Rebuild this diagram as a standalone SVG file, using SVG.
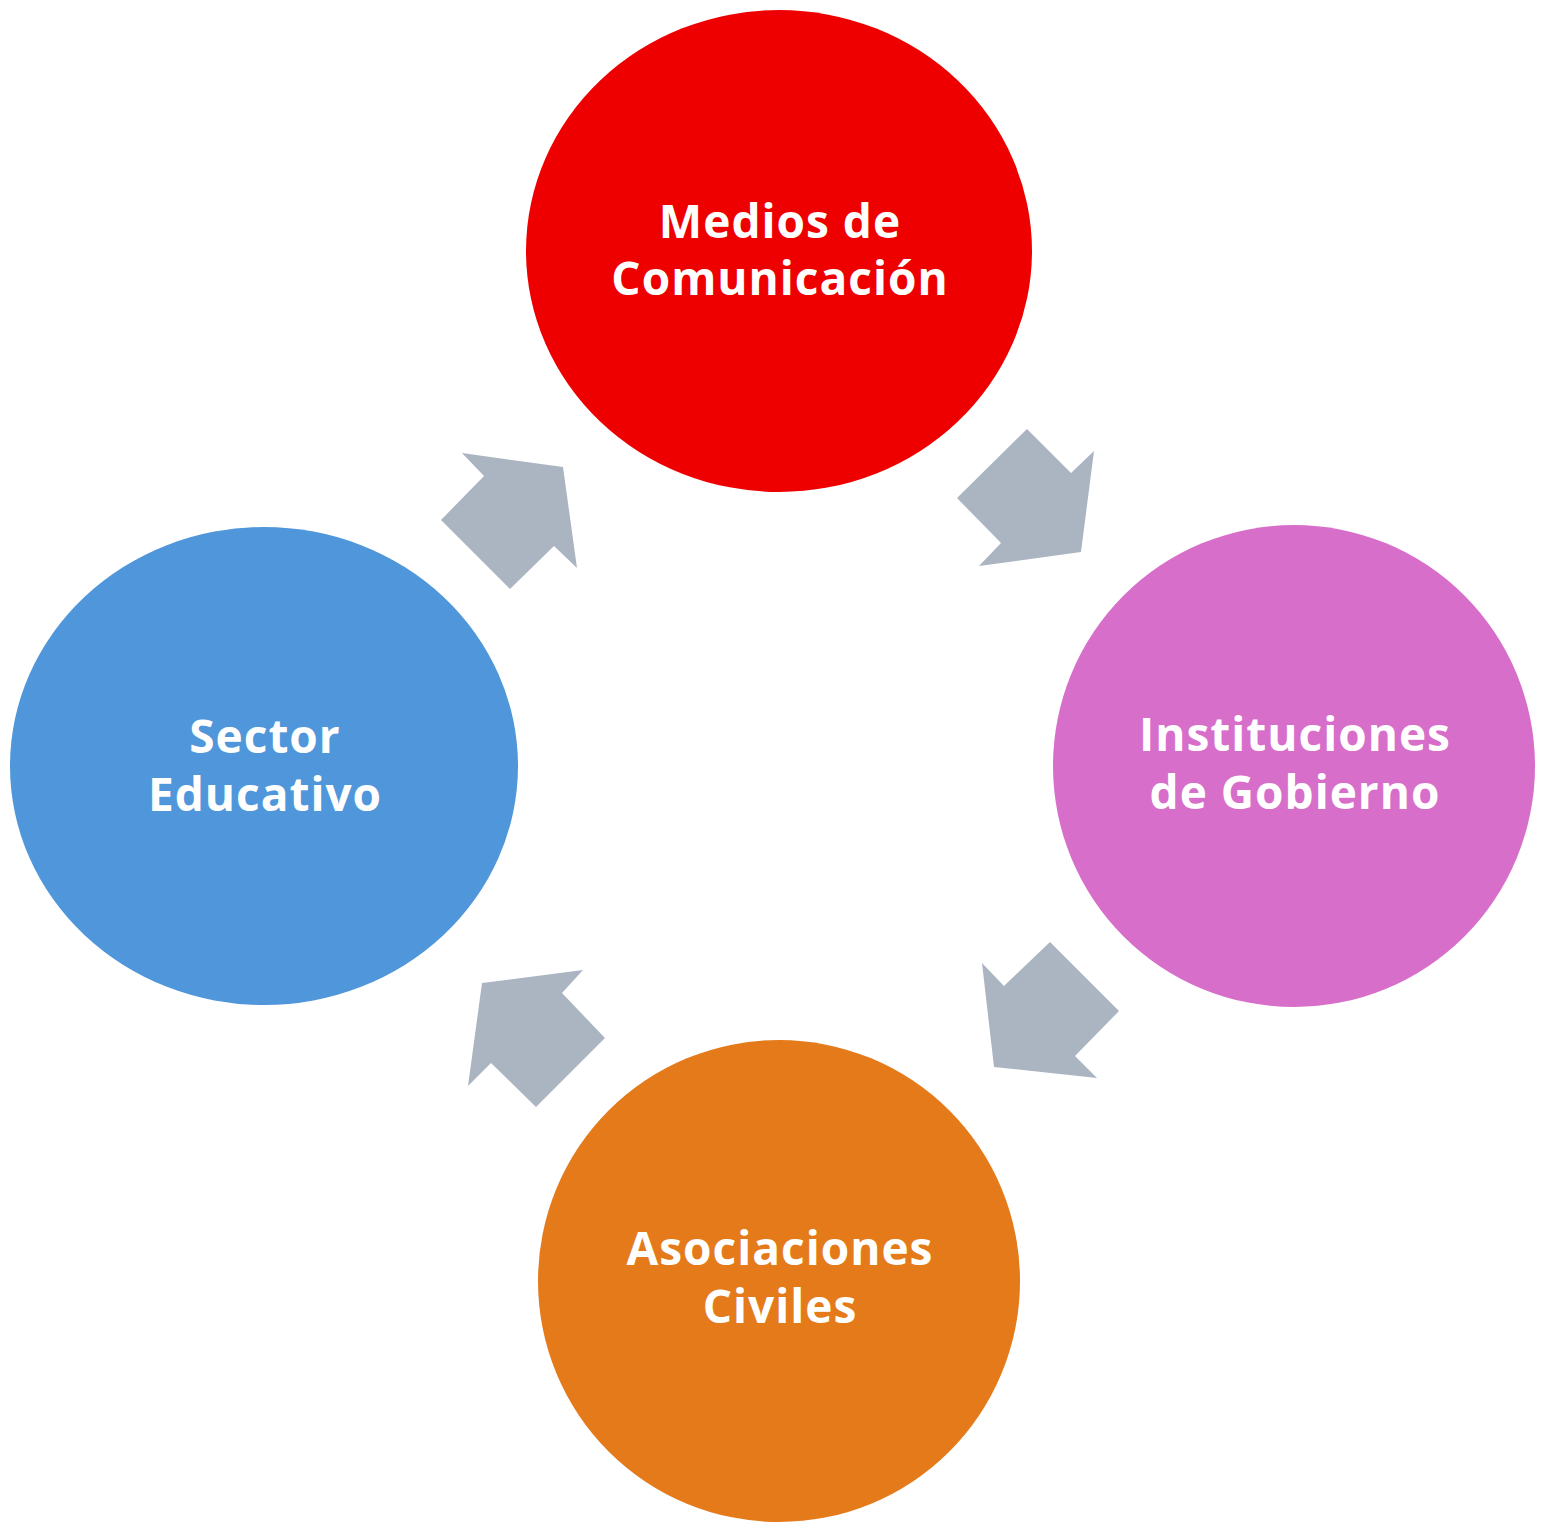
<svg xmlns="http://www.w3.org/2000/svg" width="1553" height="1523" viewBox="0 0 1553 1523">
<style>
.lbl{font-family:"Open Sans","Liberation Sans",sans-serif;font-weight:bold;font-size:46px;letter-spacing:1px;fill:#ffffff;text-anchor:middle}
.arr{fill:#AAB5C1}
</style>
<rect width="1553" height="1523" fill="#ffffff"/>
<g id="connectors">
<polygon class="arr" points="462,453 563,467 577,568 554,546 510,589 441,520 484,476"/>
<polygon class="arr" points="1027,429 1071,473 1094,451 1081,552 979,566 1001,543 957,498"/>
<polygon class="arr" points="1050,942 1119,1011 1075,1056 1097,1078 994,1067 982,963 1004,986"/>
<polygon class="arr" points="482,983 583,970 562,993 605,1038 536,1107 491,1063 468,1086"/>
</g>
<g id="node-medios">
<ellipse cx="779" cy="251" rx="253" ry="241" fill="#EE0000"/>
<text class="lbl" x="780" y="238">Medios de</text>
<text class="lbl" x="780" y="295">Comunicación</text>
</g>
<g id="node-instituciones">
<ellipse cx="1294" cy="766" rx="241" ry="241" fill="#D76ECA"/>
<text class="lbl" x="1295" y="751">Instituciones</text>
<text class="lbl" x="1295" y="809">de Gobierno</text>
</g>
<g id="node-asociaciones">
<ellipse cx="779" cy="1281" rx="241" ry="241" fill="#E47A1A"/>
<text class="lbl" x="780" y="1265">Asociaciones</text>
<text class="lbl" x="780" y="1323">Civiles</text>
</g>
<g id="node-sector">
<ellipse cx="264" cy="766" rx="254" ry="239" fill="#5096DA"/>
<text class="lbl" x="265" y="753">Sector</text>
<text class="lbl" x="265" y="811">Educativo</text>
</g>
</svg>
